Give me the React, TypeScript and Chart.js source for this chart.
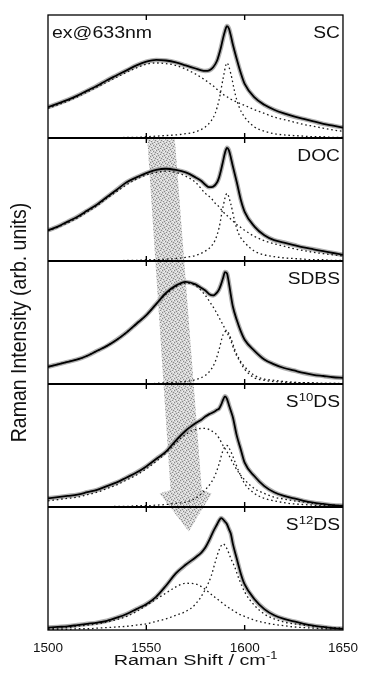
import React, { useEffect, useRef } from 'react';
import { Chart, registerables } from 'chart.js';
Chart.register(...registerables);

const FONT = "'Liberation Sans', Arial, Helvetica, sans-serif";

// Raman shift grids (cm^-1)
const ramanShiftFine = [1500,1505,1510,1515,1520,1525,1530,1535,1540,1545,1550,1555,1560,1565,1570,1575,
  1578,1580,1582,1584,1586,1587,1588,1589,1590,1591,1592,1593,1594,1596,1598,1600,
  1605,1610,1615,1620,1625,1630,1635,1640,1645,1650];
const ramanShiftComp = [1500,1505,1510,1515,1520,1525,1530,1535,1540,1545,1550,1555,1560,1565,1570,1575,1580,
  1583,1585,1587,1589,1591,1593,1595,1597,
  1600,1605,1610,1615,1620,1625,1630,1635,1640,1645,1650];
const xTickValues = [1500, 1550, 1600, 1650];
const panelTickValues = [1550, 1600];

// SC
const scFit = [.25,.28,.31,.345,.385,.425,.47,.51,.55,.59,.62,.635,.63,.615,.59,.565,
  .55,.545,.55,.575,.63,.68,.74,.81,.87,.91,.89,.83,.76,.64,.53,.44,
  .33,.27,.23,.20,.175,.155,.135,.115,.10,.085];
const scBroad = [.24,.27,.30,.335,.375,.415,.455,.495,.535,.57,.60,.61,.605,.59,.56,.52,.47,
  .435,.41,.38,.355,.335,.315,.30,.285,
  .265,.23,.20,.17,.15,.13,.11,.095,.08,.065,.055];
const scNarrow = [0,0,0,0,0,0,0,0,.005,.005,.01,.015,.02,.025,.035,.05,.09,
  .14,.20,.31,.48,.61,.52,.37,.26,
  .17,.09,.055,.035,.025,.02,.015,.01,.01,.005,.005];

// DOC
const docFit = [.25,.28,.32,.36,.41,.46,.52,.58,.64,.68,.715,.74,.75,.74,.72,.68,
  .65,.62,.60,.605,.64,.68,.74,.81,.88,.92,.90,.84,.77,.64,.50,.40,
  .28,.21,.17,.15,.13,.11,.095,.08,.065,.05];
const docBroad = [.245,.275,.31,.35,.40,.45,.51,.565,.62,.665,.70,.72,.73,.72,.69,.64,.55,
  .51,.47,.44,.40,.37,.34,.31,.285,
  .25,.20,.165,.14,.12,.10,.085,.07,.06,.05,.04];
const docNarrow = [0,0,0,0,0,0,0,0,.005,.005,.01,.01,.015,.02,.03,.045,.08,
  .12,.17,.27,.44,.55,.46,.32,.22,
  .15,.08,.05,.035,.025,.02,.015,.01,.01,.005,.005];

// SDBS
const sdbsFit = [.14,.16,.18,.20,.23,.27,.31,.36,.42,.49,.56,.65,.74,.80,.83,.81,
  .78,.76,.73,.72,.745,.77,.81,.86,.91,.90,.82,.72,.63,.52,.43,.36,
  .27,.20,.16,.13,.11,.09,.075,.065,.055,.05];
const sdbsBroad = [.14,.16,.18,.20,.23,.27,.31,.36,.42,.49,.56,.65,.73,.79,.82,.80,.72,
  .65,.60,.54,.48,.42,.35,.26,.20,
  .12,.05,.03,.02,.015,.01,.01,.005,.005,.005,.005];
const sdbsNarrow = [0,0,0,0,0,0,0,0,0,0,0,.005,.01,.015,.02,.035,.07,
  .12,.18,.28,.40,.43,.37,.28,.21,
  .14,.07,.04,.03,.02,.015,.01,.01,.005,.005,0];

// S10DS
const s10Fit = [.07,.08,.09,.10,.12,.14,.17,.20,.24,.28,.33,.39,.45,.54,.62,.68,
  .71,.735,.755,.77,.79,.80,.83,.87,.90,.88,.83,.78,.73,.58,.47,.36,
  .25,.17,.12,.09,.07,.05,.035,.025,.015,.01];
const s10Broad = [.05,.06,.07,.08,.10,.12,.15,.18,.22,.26,.31,.37,.44,.52,.59,.63,.64,
  .62,.60,.56,.50,.45,.39,.33,.28,
  .22,.15,.11,.08,.065,.05,.04,.03,.02,.015,.01];
const s10Narrow = [0,0,0,0,0,0,0,.005,.005,.01,.01,.015,.02,.03,.04,.07,.14,
  .20,.26,.35,.46,.50,.45,.37,.29,
  .19,.11,.07,.05,.035,.025,.02,.015,.01,.01,.005];

// S12DS
const s12Fit = [.02,.025,.03,.04,.05,.06,.075,.10,.13,.17,.21,.27,.36,.46,.53,.59,
  .63,.67,.73,.80,.86,.89,.91,.90,.88,.86,.82,.78,.70,.58,.46,.37,
  .25,.17,.12,.09,.07,.05,.035,.025,.015,.01];
const s12Broad = [.01,.015,.02,.03,.04,.05,.065,.085,.11,.15,.20,.25,.30,.35,.38,.375,.33,
  .29,.265,.24,.215,.19,.17,.15,.13,
  .11,.08,.06,.045,.035,.025,.02,.015,.01,.01,.005];
const s12Narrow = [.005,.005,.005,.01,.01,.015,.02,.025,.03,.04,.05,.07,.09,.12,.15,.21,.33,
  .44,.55,.65,.70,.66,.58,.51,.42,
  .31,.20,.13,.09,.065,.05,.04,.03,.025,.02,.015];

// panel labels: odd-index segments are superscripts
const panelNames = ['SC', 'DOC', 'SDBS', 'S10DS', 'S12DS'];
const panelLabelParts = [['SC'], ['DOC'], ['SDBS'], ['S', '10', 'DS'], ['S', '12', 'DS']];
const excitationLabel = 'ex@633nm';
const xTitleParts = ['Raman Shift / cm', '-1'];
const yTitle = 'Raman Intensity (arb. units)';

// shaded arrow outline (Raman shift, stacked intensity level)
const arrowShift = [1550.5, 1564.5, 1578.2, 1583.2, 1571.6, 1556.8, 1562.3];
const arrowLevel = [3.99, 3.99, 1.14, 1.11, 0.80, 1.11, 1.14];

const panels = [
  { fit: scFit, broad: scBroad, narrow: scNarrow },
  { fit: docFit, broad: docBroad, narrow: docNarrow },
  { fit: sdbsFit, broad: sdbsBroad, narrow: sdbsNarrow },
  { fit: s10Fit, broad: s10Broad, narrow: s10Narrow },
  { fit: s12Fit, broad: s12Broad, narrow: s12Narrow },
];

function stipple(ctx: CanvasRenderingContext2D) {
  const c = document.createElement('canvas');
  c.width = 6; c.height = 6;
  const g = c.getContext('2d')!;
  g.fillStyle = '#d2d2d2'; g.fillRect(0, 0, 6, 6);
  g.fillStyle = '#8a8a8a';
  [[0, 0], [3, 1], [1, 3], [4, 4], [5, 2], [2, 5]].forEach(([x, y]) => g.fillRect(x, y, 1, 1));
  g.fillStyle = '#f2f2f2';
  [[2, 1], [5, 0], [0, 4], [3, 3], [4, 5], [1, 2]].forEach(([x, y]) => g.fillRect(x, y, 1, 1));
  return ctx.createPattern(c, 'repeat')!;
}

function drawParts(ctx: CanvasRenderingContext2D, parts: string[], x: number, y: number,
  align: 'left' | 'right' | 'center', size: number, supSize: number, sx: number) {
  const fonts = parts.map((_, i) => `${i % 2 ? supSize : size}px ${FONT}`);
  const widths = parts.map((p, i) => { ctx.font = fonts[i]; return ctx.measureText(p).width * sx; });
  const total = widths.reduce((a, b) => a + b, 0);
  let cx = align === 'left' ? x : align === 'right' ? x - total : x - total / 2;
  parts.forEach((p, i) => {
    ctx.save();
    ctx.font = fonts[i];
    ctx.textAlign = 'left';
    ctx.textBaseline = 'alphabetic';
    ctx.translate(cx, i % 2 ? y - size * 0.38 : y);
    ctx.scale(sx, 1);
    ctx.fillText(p, 0, 0);
    ctx.restore();
    cx += widths[i];
  });
}

const decorPlugin = {
  id: 'decor',
  beforeDatasetsDraw(chart: any) {
    const { ctx } = chart;
    const xs = chart.scales.x, ys = chart.scales.y;
    ctx.save();
    ctx.beginPath();
    arrowShift.forEach((v, i) => {
      const px = xs.getPixelForValue(v), py = ys.getPixelForValue(arrowLevel[i]);
      if (i) ctx.lineTo(px, py); else ctx.moveTo(px, py);
    });
    ctx.closePath();
    ctx.fillStyle = stipple(ctx);
    ctx.fill();
    ctx.restore();
  },
  afterDatasetsDraw(chart: any) {
    const { ctx, chartArea } = chart;
    const { left, right, top, bottom } = chartArea;
    const xs = chart.scales.x, ys = chart.scales.y;
    const n = panels.length;
    ctx.save();
    ctx.strokeStyle = '#000';
    ctx.lineWidth = 1.3;
    ctx.strokeRect(left, top, right - left, bottom - top);
    ctx.lineWidth = 1.8;
    for (let k = 1; k < n; k++) {
      const py = ys.getPixelForValue(k);
      ctx.beginPath(); ctx.moveTo(left, py); ctx.lineTo(right, py); ctx.stroke();
    }
    ctx.lineWidth = 1.4;
    panelTickValues.forEach((v) => {
      const px = xs.getPixelForValue(v);
      for (let k = 0; k <= n; k++) {
        const py = ys.getPixelForValue(k);
        const y1 = k === n ? py : py - 5;
        const y2 = k === 0 ? py : py + 5;
        ctx.beginPath(); ctx.moveTo(px, y1); ctx.lineTo(px, y2); ctx.stroke();
      }
    });
    ctx.fillStyle = '#111';
    panelLabelParts.forEach((parts, i) => {
      const py = ys.getPixelForValue(n - i) + 23;
      drawParts(ctx, parts, right - 3, py, 'right', 16, 11, 1.2);
    });
    drawParts(ctx, [excitationLabel], left + 4, top + 23, 'left', 16, 11, 1.22);
    // x title
    drawParts(ctx, xTitleParts, (left + right) / 2, 665, 'center', 15.5, 10, 1.28);
    // y title
    ctx.save();
    ctx.translate(20, ys.getPixelForValue(n / 2));
    ctx.rotate(-Math.PI / 2);
    ctx.scale(1, 1.15);
    ctx.font = `19.5px ${FONT}`;
    ctx.textAlign = 'center';
    ctx.textBaseline = 'middle';
    ctx.fillText(yTitle, 0, 0);
    ctx.restore();
    ctx.restore();
  },
};

export default function App() {
  const ref = useRef<HTMLCanvasElement>(null);
  useEffect(() => {
    const canvas = ref.current;
    if (!canvas) return;
    const datasets: any[] = [];
    const n = panels.length;
    panels.forEach((p, i) => {
      const off = n - 1 - i;
      const fitPts = ramanShiftFine.map((x, k) => ({ x, y: p.fit[k] + off }));
      const broadPts = ramanShiftComp.map((x, k) => ({ x, y: p.broad[k] + off }));
      const narrowPts = ramanShiftComp.map((x, k) => ({ x, y: p.narrow[k] + off }));
      datasets.push({ label: panelNames[i] + ' data', data: fitPts, borderColor: 'rgba(155,155,155,0.8)', borderWidth: 4.5, order: 3 });
      datasets.push({ label: panelNames[i] + ' broad', data: broadPts, borderColor: '#1a1a1a', borderWidth: 1.3, borderDash: [1.6, 2.8], order: 1 });
      datasets.push({ label: panelNames[i] + ' narrow', data: narrowPts, borderColor: '#1a1a1a', borderWidth: 1.3, borderDash: [1.6, 2.8], order: 1 });
      datasets.push({ label: panelNames[i] + ' fit', data: fitPts, borderColor: '#000', borderWidth: 1.8, order: 0 });
    });
    const chart = new Chart(canvas, {
      type: 'line',
      data: { datasets },
      options: {
        animation: false,
        responsive: false,
        devicePixelRatio: 1,
        layout: { padding: { left: 48, right: 19, top: 15, bottom: 0 } },
        plugins: { legend: { display: false }, tooltip: { enabled: false } },
        elements: {
          point: { radius: 0 },
          line: { cubicInterpolationMode: 'monotone', fill: false },
        },
        scales: {
          x: {
            type: 'linear', min: 1500, max: 1650,
            grid: { display: false, drawTicks: false },
            border: { display: false },
            afterBuildTicks: (s: any) => { s.ticks = xTickValues.map((v) => ({ value: v })); },
            afterFit: (s: any) => { s.height = 47; },
            ticks: {
              padding: 10, autoSkip: false, maxRotation: 0, minRotation: 0, color: '#111',
              font: { family: FONT, size: 13.5 },
              callback: (v: any) => String(v),
            },
          },
          y: { min: 0, max: 5, display: false },
        },
      } as any,
      plugins: [decorPlugin],
    });
    return () => chart.destroy();
  }, []);
  return (
    <div style={{ position: 'fixed', left: 0, top: 0, width: 368, height: 677, background: '#fff' }}>
      <canvas ref={ref} width={368} height={677} style={{ display: 'block', width: 368, height: 677 }} />
    </div>
  );
}
